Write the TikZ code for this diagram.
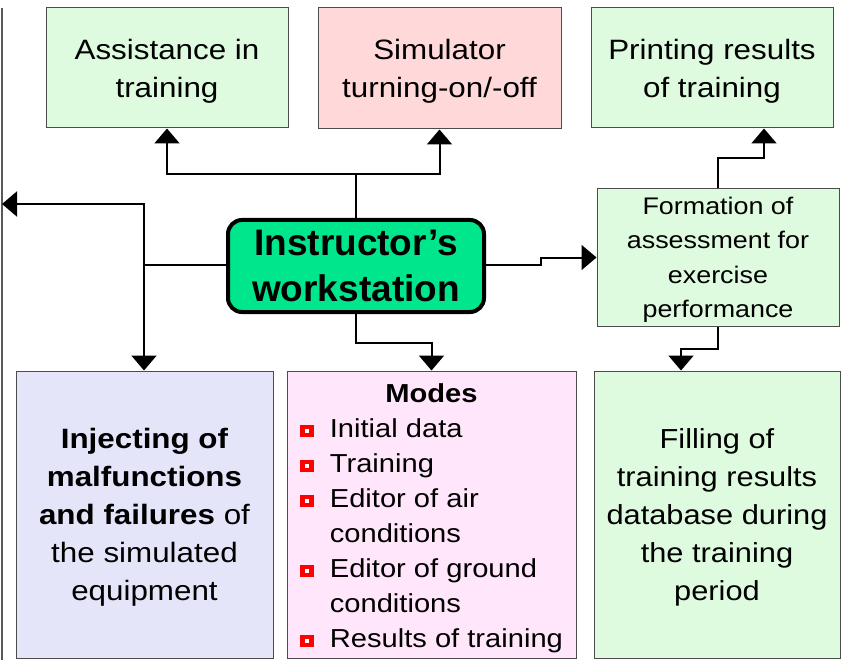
\documentclass[tikz,border=0pt]{standalone}
\usepackage{fontspec}
\setmainfont{Liberation Sans}[FakeStretch=1.12]
\newfontfamily\instrfont{Liberation Sans}
\usetikzlibrary{arrows.meta}
\definecolor{boxgreen}{RGB}{222,251,224}
\definecolor{simpink}{RGB}{255,217,217}
\definecolor{injlav}{RGB}{229,229,250}
\definecolor{modepink}{RGB}{255,230,250}
\definecolor{instrgreen}{RGB}{0,230,140}
\newcommand{\modebul}{\rlap{\color{red}\rule{14pt}{12.5pt}}\hspace{5pt}\raisebox{4.5pt}{\color{white}\rule{3.8pt}{3.8pt}}\hspace{5.2pt}}
\begin{document}
\begin{tikzpicture}[x=1pt, y=-1pt,
    box/.style={draw=black!70, line width=1pt, align=center, inner sep=0pt},
    lowered/.style={text depth=-2pt},
    conn/.style={line width=2pt, -{Triangle[length=15pt,width=25pt]}},
    link/.style={line width=2pt},
  ]
  \useasboundingbox (0,0) rectangle (846,663);

  \node[box, lowered, fill=boxgreen, minimum width=242pt, minimum height=120pt,
    font=\fontsize{28}{38}\selectfont] (assist) at (167,68) {Assistance in\\training};
  \node[box, lowered, fill=simpink, minimum width=243pt, minimum height=121pt,
    font=\fontsize{28}{38}\selectfont] (sim) at (439.5,68.5) {Simulator\\turning-on/-off};
  \node[box, lowered, fill=boxgreen, minimum width=242pt, minimum height=120pt,
    font=\fontsize{28}{38}\selectfont] (print) at (712,68) {Printing results\\of training};
  \node[box, lowered, fill=boxgreen, minimum width=242pt, minimum height=137pt,
    font=\fontsize{24}{34.5}\selectfont] (form) at (718,257.5)
    {Formation of\\assessment for\\exercise\\performance};
  \node[box, draw=black, line width=4pt, rounded corners=14pt, fill=instrgreen,
    minimum width=256pt, minimum height=92pt,
    font=\instrfont\fontsize{37}{46}\selectfont\bfseries] (instr) at (356,266)
    {Instructor’s\\workstation};
  \node[box, lowered, fill=injlav, minimum width=257pt, minimum height=287pt,
    font=\fontsize{28}{38}\selectfont] (inj) at (144.5,514.5)
    {\textbf{Injecting of}\\\textbf{malfunctions}\\\textbf{and failures} of\\the simulated\\equipment};
  \node[box, fill=modepink, minimum width=289pt, minimum height=287pt,
    font=\fontsize{26}{35}\selectfont] (modes) at (431.5,514.5)
    {\begin{tabular}{@{}c@{\hspace{21pt}}l@{}}
      \multicolumn{2}{c}{\textbf{Modes}}\\
      \modebul & Initial data\\
      \modebul & Training\\
      \modebul & Editor of air\\
               & conditions\\
      \modebul & Editor of ground\\
               & conditions\\
      \modebul & Results of training\\[-6pt]
    \end{tabular}};
  \node[box, lowered, fill=boxgreen, minimum width=246pt, minimum height=287pt,
    font=\fontsize{27.5}{38}\selectfont] (fill) at (717,514.5)
    {Filling of\\training results\\database during\\the training\\period};

  \coordinate (railtop) at (2,8);
  \coordinate (railbot) at (2,660);
  \coordinate (railhit) at (2,204);
  \coordinate (jl) at (144,265);
  \coordinate (jt) at (356,174);
  \draw[black!65, line width=1.5pt] (railtop) -- (railbot);

  \draw[link] (instr.west |- jl) -- (jl);
  \draw[conn] (jl) |- (railhit);
  \draw[conn] (jl) -- (jl |- inj.north);
  \draw[link] (instr.north) -- (jt);
  \draw[conn] (jt) -| (assist.south);
  \draw[conn] (jt) -| (sim.south);
  \draw[conn] (instr.south) -- ++(0,29) -| (modes.north);
  \draw[conn] (instr.east |- jl) -- ++(55,0) |- (form.west);
  \draw[conn] (form.north) -- ++(0,-30) -| ([xshift=52pt]print.south);
  \draw[conn] (form.south) -- ++(0,22) -| ([xshift=-36pt]fill.north);
\end{tikzpicture}
\end{document}
